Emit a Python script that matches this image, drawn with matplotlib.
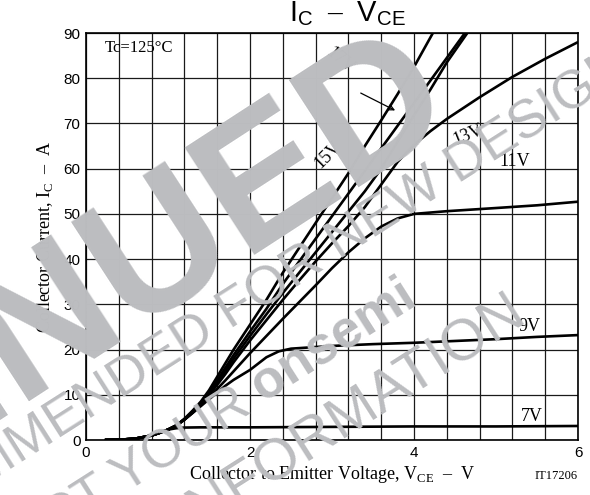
import matplotlib
matplotlib.use("Agg")
import matplotlib.pyplot as plt

plt.rcParams['font.family'] = ['Liberation Serif', 'DejaVu Serif']
plt.rcParams['mathtext.fontset'] = 'custom'
plt.rcParams['mathtext.rm'] = 'Liberation Serif'
plt.rcParams['mathtext.sf'] = 'Liberation Sans'

# shared start of every curve (V, A)
v_low = [0.23, 0.4, 0.6, 0.8, 0.9, 1.0]
i_low = [0.0, 0.05, 0.3, 1.0, 1.6, 2.3]

# VGE = 7 V
v_7 = [1.1, 1.2, 1.4, 2.0, 3.0, 4.0, 5.0, 6.0]
i_7 = [2.6, 2.75, 2.8, 2.8, 2.9, 3.0, 3.0, 3.1]
# VGE = 9 V
v_9 = [1.1, 1.2, 1.3, 1.4, 1.5, 1.6, 1.7, 1.8, 2.0, 2.2, 2.35, 2.5, 3.0, 3.5, 4.0, 4.5, 5.0, 5.5, 6.0]
i_9 = [3.2, 4.5, 6.0, 7.5, 9.0, 10.5, 12.0, 13.3, 15.5, 18.3, 19.6, 20.2, 20.8, 21.2, 21.5, 21.9, 22.3, 22.8, 23.2]
# VGE = 11 V
v_11 = [1.1, 1.2, 1.3, 1.4, 1.5, 1.6, 1.7, 1.8, 2.0, 2.2, 2.4, 2.6, 2.8, 3.0, 3.2, 3.4, 3.6, 3.8, 4.0, 4.4, 5.0, 5.5, 6.0]
i_11 = [3.2, 4.5, 6.0, 7.6, 9.4, 11.3, 13.2, 15.2, 19.2, 23.0, 26.8, 30.5, 34.2, 38.0, 41.5, 44.6, 47.2, 49.0, 50.0, 50.6, 51.3, 51.9, 52.7]
# VGE = 13 V
v_13 = [1.1, 1.2, 1.3, 1.4, 1.5, 1.6, 1.7, 1.8, 2.0, 2.2, 2.4, 2.6, 2.8, 3.0, 3.2, 3.4, 3.6, 3.8, 4.0, 4.2, 4.4, 4.8, 5.2, 5.6, 6.0]
i_13 = [3.2, 4.5, 6.1, 7.8, 9.9, 12.2, 14.6, 17.2, 22.0, 26.5, 31.0, 35.3, 39.5, 43.5, 47.3, 51.5, 56.5, 61.5, 65.3, 68.3, 71.0, 75.8, 80.3, 84.3, 88.0]
# VGE = 15 V
v_15 = [1.1, 1.2, 1.3, 1.4, 1.5, 1.6, 1.7, 1.8, 2.0, 2.2, 2.4, 2.6, 2.8, 3.0, 3.2, 3.4, 3.6, 3.8, 4.0, 4.2, 4.4, 4.65]
i_15 = [3.2, 4.6, 6.2, 8.0, 10.2, 12.7, 15.3, 18.0, 23.0, 27.8, 32.5, 37.0, 41.5, 46.0, 50.5, 55.0, 60.0, 66.0, 71.8, 77.5, 83.5, 90.0]
# VGE = 17 V
v_17 = [1.1, 1.2, 1.3, 1.4, 1.5, 1.6, 1.7, 1.8, 2.0, 2.2, 2.4, 2.6, 2.8, 3.0, 3.2, 3.4, 3.6, 3.8, 4.0, 4.2, 4.4, 4.62]
i_17 = [3.2, 4.6, 6.3, 8.2, 10.5, 13.2, 16.0, 18.8, 24.0, 29.0, 34.5, 39.5, 44.5, 49.5, 54.5, 59.5, 64.5, 69.5, 74.5, 79.5, 84.5, 90.0]
# VGE = 20 V
v_20 = [1.1, 1.2, 1.3, 1.4, 1.5, 1.6, 1.7, 1.8, 2.0, 2.2, 2.4, 2.6, 2.8, 3.0, 3.2, 3.4, 3.6, 3.8, 4.0, 4.23]
i_20 = [3.2, 4.7, 6.5, 8.5, 11.0, 14.0, 17.0, 20.0, 25.5, 31.0, 37.0, 42.5, 48.0, 53.5, 59.0, 65.0, 70.7, 76.5, 82.5, 90.0]

curves = [(v_7, i_7), (v_9, i_9), (v_11, i_11), (v_13, i_13),
          (v_15, i_15), (v_17, i_17), (v_20, i_20)]

fig = plt.figure(figsize=(5.9, 4.95), dpi=100)
ax = fig.add_axes([0.1458, 0.1111, 0.8339, 0.8222])

for v, i in curves:
    ax.plot(v_low + v, i_low + i, color='black', lw=1.9, solid_capstyle='butt', zorder=3)

ax.set_xlim(0, 6)
ax.set_ylim(0, 90)
ax.set_xticks([0, 2, 4, 6])
ax.set_xticks([k * 0.4 for k in range(16)], minor=True)
ax.set_yticks(range(0, 91, 10))
ax.grid(True, which='both', color='#1a1a1a', lw=0.9)
ax.tick_params(which='both', length=0, labelsize=11, pad=4)
for lab in ax.get_xticklabels() + ax.get_yticklabels():
    lab.set_family('Liberation Sans')
for s in ax.spines.values():
    s.set_linewidth(1.2)

# curve labels
lab_kw = dict(fontsize=13, color='black', zorder=4)
ax.text(5.44, 5.3, '7V', ha='center', va='center', **lab_kw)
ax.text(5.41, 25.2, '9V', ha='center', va='center', **lab_kw)
ax.text(5.23, 61.5, '11V', ha='center', va='center', **lab_kw)
ax.text(4.66, 67.5, '13V', ha='center', va='center', rotation=22, **lab_kw)
ax.text(2.95, 63.0, '15V', ha='center', va='center', rotation=45, **lab_kw)
ax.text(3.10, 84.0, '17V', ha='center', va='center', rotation=-40, **lab_kw)
ax.annotate('', xy=(3.80, 72.6), xytext=(3.32, 77.0),
            arrowprops=dict(arrowstyle='->', lw=0.9, color='black'), zorder=4)
ax.text(0.23, 86.7, 'Tc=125°C', ha='left', va='center', fontsize=12)

ax.set_xlabel(r'Collector to Emitter Voltage, V$_{\rm CE}$  –  V', fontsize=13, labelpad=3)
ax.set_ylabel(r'Collector Current, I$_{\rm C}$  –  A', fontsize=13, labelpad=6)
fig.text(578 / 590, 1 - 476 / 495, 'IT17206', ha='right', va='center', fontsize=9)
fig.text(347 / 590, 1 - 14 / 495, r'$\mathsf{I_C}$  –  $\mathsf{V_{CE}}$',
         ha='center', va='center', fontsize=21)

# discontinued watermark
wm = '#bcbdc0'
def wtext(x, y, s, size, weight='normal', ha='right', rot=32.5):
    fig.text(x / 590, 1 - y / 495, s, fontsize=size, color=wm, family='Liberation Sans',
             weight=weight, rotation=rot, rotation_mode='anchor', ha=ha, va='baseline',
             zorder=10)

wtext(460, 114, 'DISCONTINUED', 134, weight='bold', rot=33)
wtext(634, 73, 'NOT RECOMMENDED FOR NEW DESIGN', 39)
wtext(266, 404, 'CONTACT YOUR ', 38)
wtext(418, 302, 'onsemi', 38, weight='bold')
wtext(529, 322, 'REPRESENTATIVE FOR INFORMATION', 42)

fig.savefig('out.png', dpi=100)
